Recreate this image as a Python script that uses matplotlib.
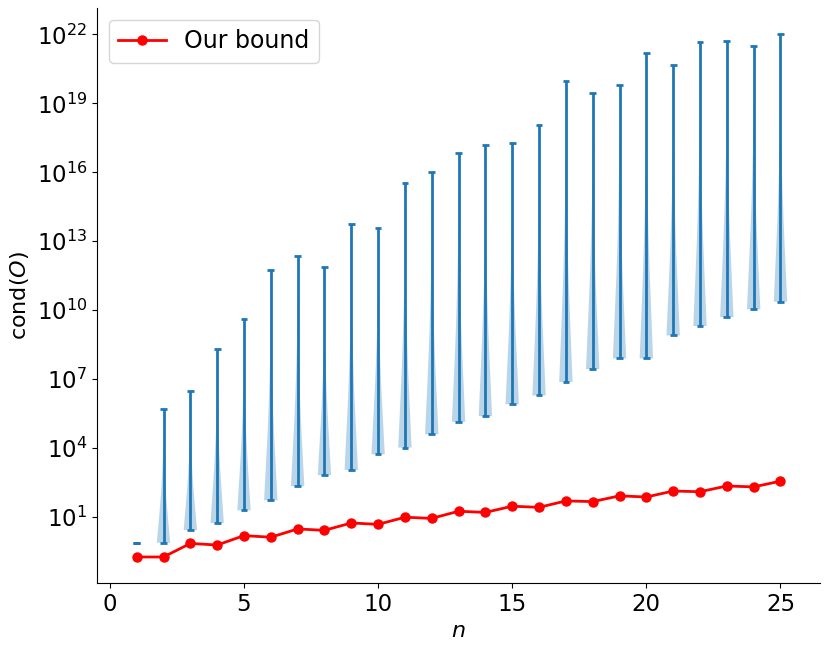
import numpy as np
import matplotlib
matplotlib.use("Agg")
import matplotlib.pyplot as plt

# n values
n_vals = list(range(1, 26))

# log10 of min / max of cond(O) per n
log_min = [-0.15, -0.12, 0.43, 0.74, 1.29, 1.73, 2.34, 2.82, 3.05, 3.73,
           4.02, 4.60, 5.14, 5.39, 5.91, 6.29, 6.88, 7.44, 7.90, 7.90,
           8.90, 9.31, 9.70, 10.04, 10.37]
log_max = [-0.15, 5.72, 6.49, 8.29, 9.61, 11.75, 12.37, 11.88, 13.75, 13.59,
           15.55, 16.03, 16.82, 17.17, 17.27, 18.04, 19.97, 19.46, 19.81, 21.19,
           20.68, 21.68, 21.70, 21.50, 22.02]

# relative violin width from bottom (min) to top (max)
profile = [1.0, 0.82, 0.64, 0.47, 0.33, 0.21, 0.12, 0.06, 0.03, 0.012, 0.0]

# log10 of "Our bound"
log_bound = [-0.74, -0.74, -0.15, -0.22, 0.19, 0.12, 0.48, 0.42, 0.74, 0.68,
             0.99, 0.94, 1.25, 1.20, 1.47, 1.42, 1.70, 1.67, 1.92, 1.87,
             2.13, 2.10, 2.35, 2.31, 2.56]

ytick_exps = [1, 4, 7, 10, 13, 16, 19, 22]

plt.rcParams['font.size'] = 16

fig = plt.figure(figsize=(8.3, 6.53), dpi=100)
ax = fig.add_axes([0.117, 0.107, 0.871, 0.881])

vpstats = []
for lo, hi in zip(log_min, log_max):
    coords = np.linspace(lo, hi, len(profile))
    vpstats.append({
        'coords': coords,
        'vals': np.array(profile, dtype=float),
        'mean': (lo + hi) / 2,
        'median': (lo + hi) / 2,
        'min': lo,
        'max': hi,
        'quantiles': [],
    })

parts = ax.violin(vpstats, positions=n_vals, widths=0.5, showextrema=True)
for key in ('cbars', 'cmins', 'cmaxes'):
    parts[key].set_linewidth(2.0)
for body in parts['bodies']:
    body.set_linewidth(1.0)

ax.plot(n_vals, log_bound, 'o-', color='red', label='Our bound',
        linewidth=2.0, markersize=6.5)

ax.set_yticks(ytick_exps)
ax.set_yticklabels([r'$10^{%d}$' % k for k in ytick_exps])
ax.set_xticks([0, 5, 10, 15, 20, 25])
ax.tick_params(axis='both', labelsize=16.5)
ax.set_xlabel(r'$n$')
ax.set_ylabel(r'cond($O$)')
ax.spines['top'].set_visible(False)
ax.spines['right'].set_visible(False)
ax.legend(loc='upper left', fontsize=17)

fig.savefig('out.png', dpi=100)
